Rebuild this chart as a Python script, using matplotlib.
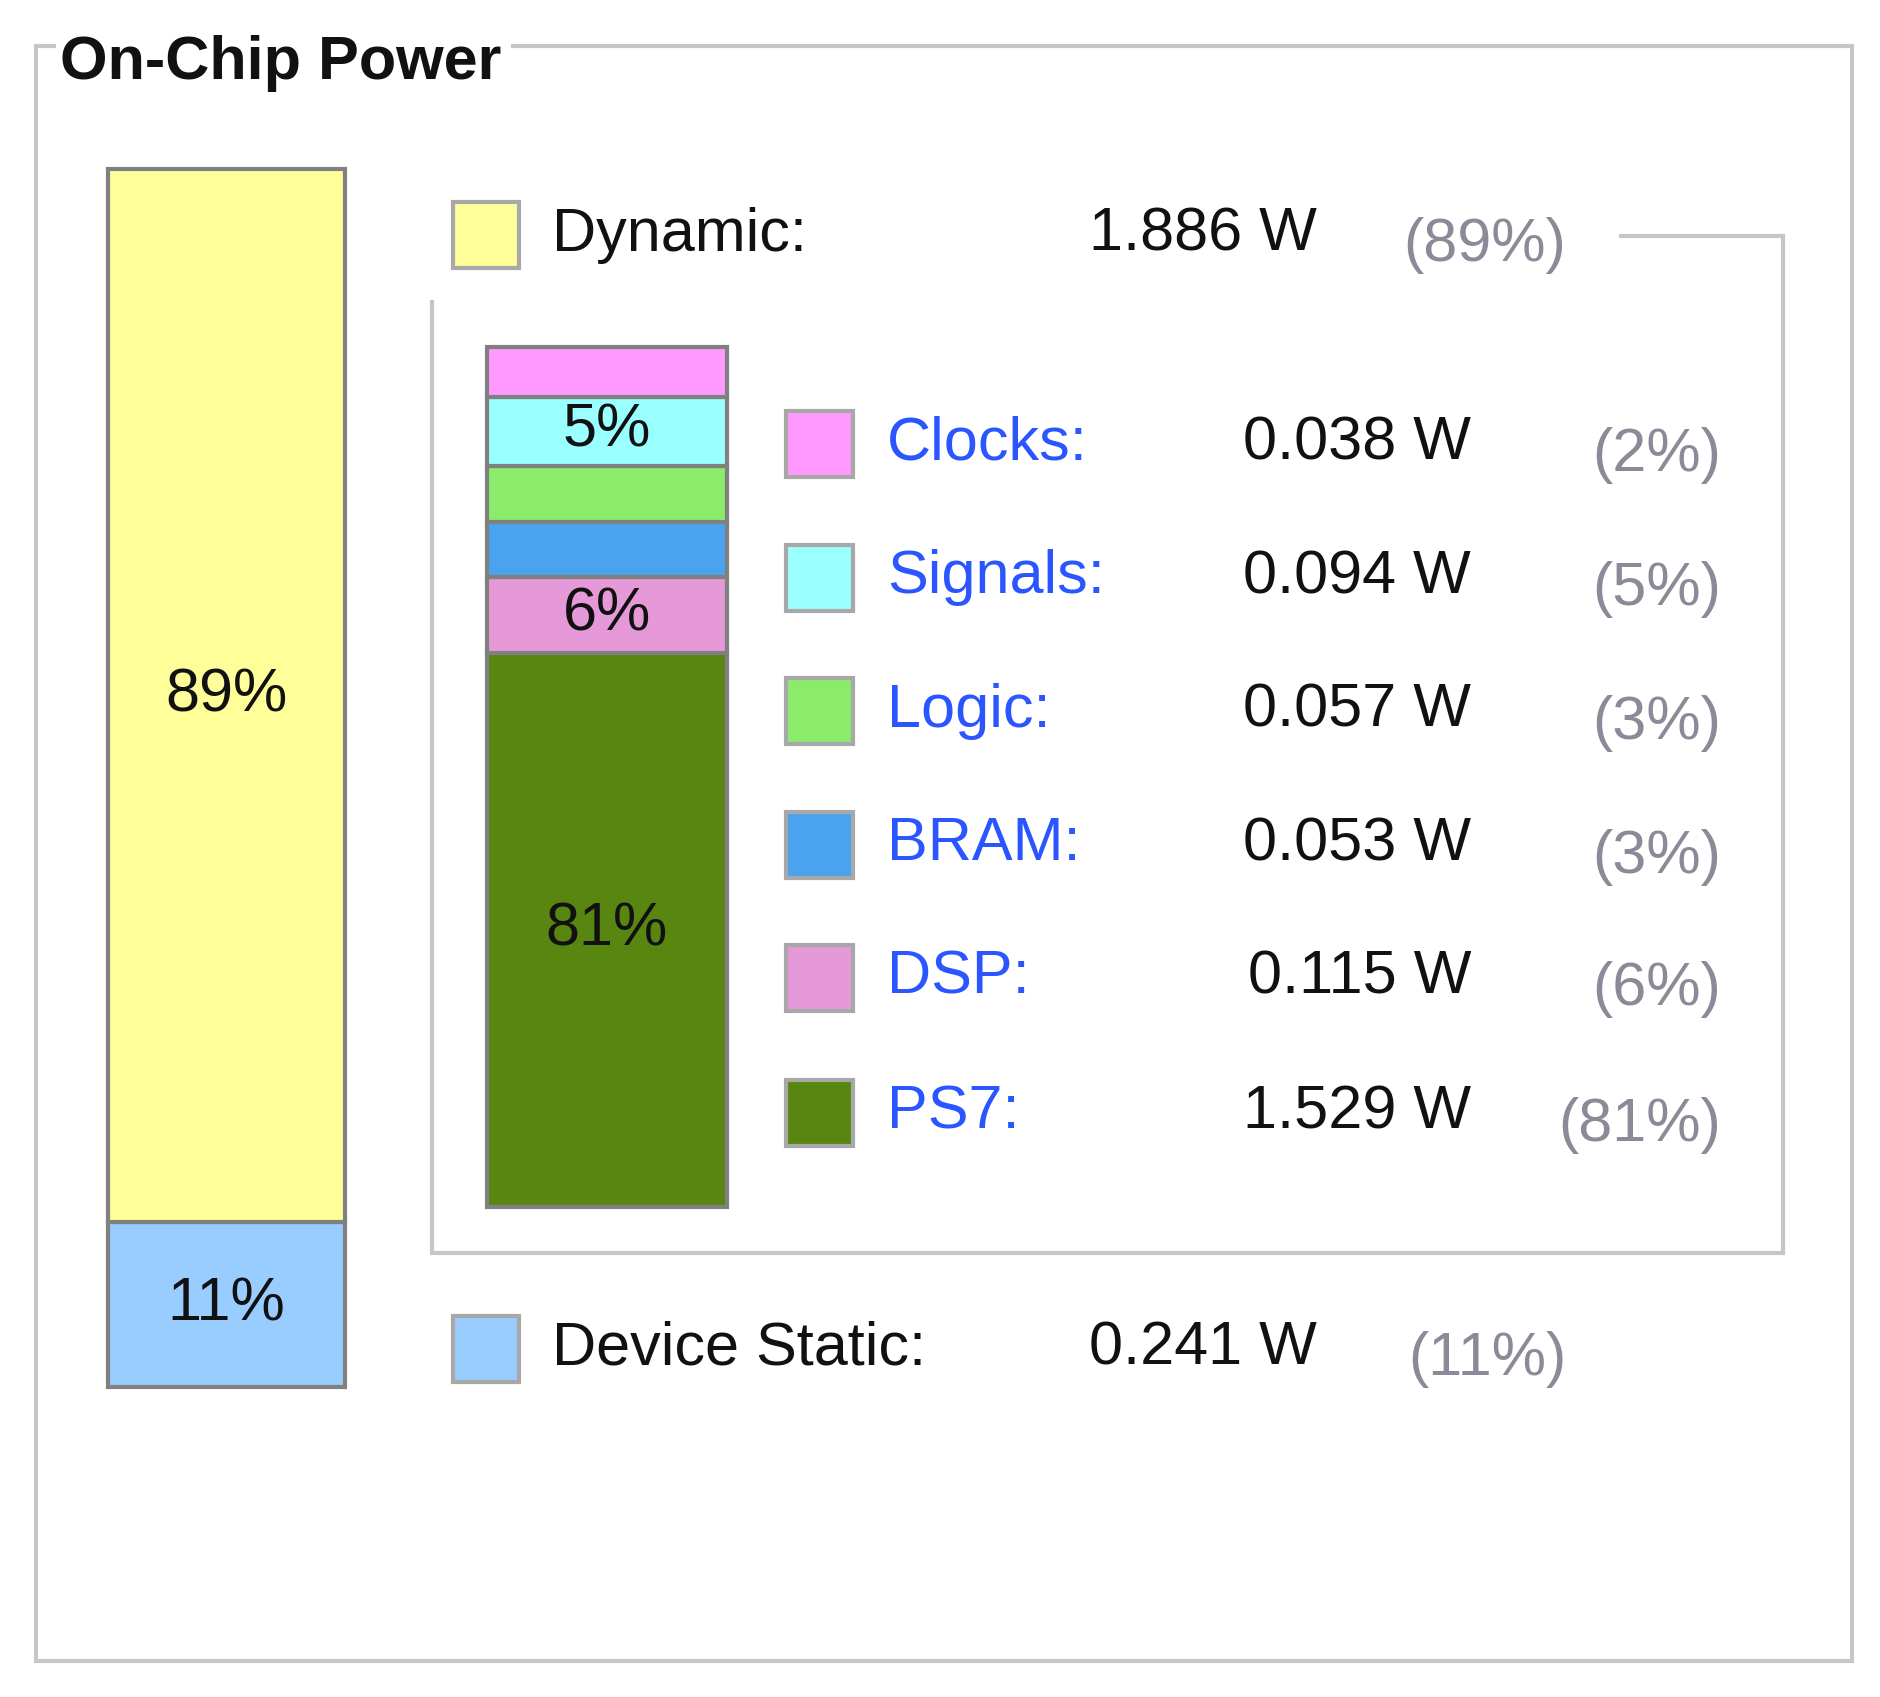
import matplotlib.pyplot as plt
from matplotlib.patches import Rectangle

plt.rcParams['font.family'] = ['Liberation Sans', 'DejaVu Sans']

W, H = 1880, 1697

title = 'On-Chip Power'

summary_labels = ['Dynamic', 'Device Static']
summary_watts = [1.886, 0.241]
summary_colors = ['#ffff99', '#99ccff']

comp_labels = ['Clocks', 'Signals', 'Logic', 'BRAM', 'DSP', 'PS7']
comp_watts = [0.038, 0.094, 0.057, 0.053, 0.115, 1.529]
comp_colors = ['#ff99ff', '#99ffff', '#8aec6a', '#4aa3ef', '#e699d8', '#598611']

BAR_EDGE = '#808080'
SWATCH_EDGE = '#a8a8a8'
FRAME = '#c6c6c6'
LINK = '#2a55ff'
GREY = '#8a8a98'
FS = 44

fig = plt.figure(figsize=(W / 100, H / 100), dpi=100)
bg = fig.add_axes([0, 0, 1, 1])
bg.set_xlim(0, W)
bg.set_ylim(H, 0)
bg.axis('off')


def px_axes(x0, y0, x1, y1):
    return fig.add_axes([x0 / W, 1 - y1 / H, (x1 - x0) / W, (y1 - y0) / H])


def pcts(watts):
    total = sum(watts)
    return [round(100 * w / total) for w in watts]


def stacked(ax, watts, colors, pad_frac, min_pct):
    # small segments get a fixed extra height so they stay visible
    pad = pad_frac * sum(watts)
    bottom = 0
    for w, c, p in list(zip(watts, colors, pcts(watts)))[::-1]:
        h = w + pad
        ax.bar(0, h, bottom=bottom, width=1, color=c, edgecolor=BAR_EDGE,
               linewidth=3, clip_on=False)
        if p >= min_pct:
            ax.text(0, bottom + h / 2, f'{p}%', ha='center', va='center',
                    fontsize=FS, color='#111111')
        bottom += h
    ax.set_xlim(-0.5, 0.5)
    ax.set_ylim(0, bottom)
    ax.axis('off')


# frames
bg.plot([54, 36, 36, 1852, 1852, 513], [46, 46, 1661, 1661, 46, 46],
        color=FRAME, lw=3, solid_joinstyle='miter')
bg.plot([1621, 1783, 1783, 432, 432], [236, 236, 1253, 1253, 302],
        color=FRAME, lw=3, solid_joinstyle='miter')
bg.text(60, 64, title, fontsize=FS, fontweight='bold', va='center', color='#111111')

# bars
stacked(px_axes(108, 169, 345, 1387), summary_watts, summary_colors, 0.03, 5)
stacked(px_axes(487, 347, 727, 1207), comp_watts, comp_colors, 0.058, 5)

# summary rows
sum_rows = [235, 1349]
for lab, w, c, p, y in zip(summary_labels, summary_watts, summary_colors,
                           pcts(summary_watts), sum_rows):
    bg.add_patch(Rectangle((453, y - 33), 66, 66, facecolor=c,
                           edgecolor=SWATCH_EDGE, lw=3))
    bg.text(552, y, lab + ':', fontsize=FS, va='center', color='#111111')
    bg.text(1317, y, f'{w:.3f} W', fontsize=FS, va='center', ha='right', color='#111111')
    bg.text(1566, y + 11, f'({p}%)', fontsize=FS, va='center', ha='right', color=GREY)

# component rows
comp_rows = [444, 578, 711, 845, 978, 1113]
for lab, w, c, p, y in zip(comp_labels, comp_watts, comp_colors,
                           pcts(comp_watts), comp_rows):
    bg.add_patch(Rectangle((786, y - 33), 67, 66, facecolor=c,
                           edgecolor=SWATCH_EDGE, lw=3))
    bg.text(887, y, lab + ':', fontsize=FS, va='center', color=LINK)
    bg.text(1471, y, f'{w:.3f} W', fontsize=FS, va='center', ha='right', color='#111111')
    bg.text(1721, y + 12, f'({p}%)', fontsize=FS, va='center', ha='right', color=GREY)

fig.savefig('out.png', dpi=100, facecolor='white')
